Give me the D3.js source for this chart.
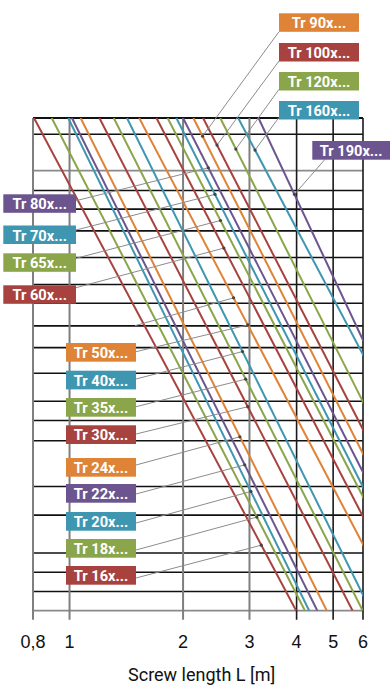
<!DOCTYPE html>
<html><head><meta charset="utf-8">
<script src="https://cdn.jsdelivr.net/npm/d3@7"></script>
<style>body{margin:0;background:#fff}svg{display:block}</style>
</head><body><svg id="c" width="390" height="688"></svg>
<script>
// ---------- data ----------
const xTicks = [0.8, 1, 2, 3, 4, 5, 6];
const xTickLabels = ["0,8", "1", "2", "3", "4", "5", "6"];
const seriesNames = ["Tr 16x...", "Tr 18x...", "Tr 20x...", "Tr 22x...", "Tr 24x...", "Tr 30x...", "Tr 35x...", "Tr 40x...", "Tr 50x...",
  "Tr 60x...", "Tr 65x...", "Tr 70x...", "Tr 80x...", "Tr 90x...", "Tr 100x...", "Tr 120x...", "Tr 160x...", "Tr 190x..."];
const seriesColors = ["#a8423f", "#8aa54a", "#3f96b0", "#6c558f", "#df8336", "#a8423f", "#8aa54a", "#3f96b0", "#df8336",
  "#a8423f", "#8aa54a", "#3f96b0", "#6c558f", "#df8336", "#a8423f", "#8aa54a", "#3f96b0", "#6c558f"];
// screw length L [m] where each line meets the top (level 100) and the bottom (level 0) of the chart
const lengthAtTop = [0.805, 0.897, 0.992, 1.015, 1.07, 1.20, 1.31, 1.42, 1.53, 1.70, 1.82, 1.92, 2.00, 2.13, 2.26, 2.51, 2.80, 3.17];
const lengthAtBottom = [3.99, 4.21, 4.32, 4.54, 4.81, 5.63, 5.99, 6.29, 7.42, 8.08, 8.59, 8.79, 9.22, 9.74, 10.59, 11.39, 13.68, 13.06];
// relative vertical levels of the callout dots on each line
const calloutLevel = [13.3, 19.0, 24.2, 29.6, 35.3, 41.4, 47.0, 52.6, 58.0, 73.6, 79.2, 84.5, 89.9, 96.3, 94.5, 93.7, 93.5, 84.5];
// an extra (unlabelled) leader pointing at the Tr 50 line
const extraCalloutSeries = [8];
const extraCalloutLevel = [63.5];
// horizontal grid levels (relative, 0 = bottom, 100 = top)
const gridLevelsBlack = [100, 96.7, 85.3, 81.5, 77.1, 71.7, 66.2, 62.4, 57.8, 53.4, 48.2, 42.5, 38.6, 34.5, 25.2, 19.4, 11.7, 7.8, 3.9];
const gridLevelsGray = [89.3, 0];

// ---------- layout ----------
const plot = {left: 33, right: 363, top: 118, bottom: 610.7};
const svg = d3.select("#c");
const x = d3.scaleLog().domain([0.8, 6]).range([plot.left, plot.right]);
const y = d3.scaleLinear().domain([0, 100]).range([plot.bottom, plot.top]);

// label boxes: [x, y, w, h, leaderStartX, leaderStartY]
const boxLayout = [
  [66, 566, 70, 18.7, 136, 578], [66, 539, 70, 18.7, 136, 550], [66, 512, 70, 18.7, 136, 523],
  [66, 484, 70, 18.7, 136, 494], [66, 458, 70, 18.7, 136, 465], [66, 425.3, 70, 18.7, 136, 434],
  [66, 398, 70, 18.7, 136, 406.7], [66, 370.7, 70, 18.7, 136, 379], [66, 343, 70, 18.7, 136, 351.7],
  [3.3, 285.3, 72.7, 18.5, 76, 287.7], [3.3, 253.3, 72.7, 18.5, 76, 258.3], [3.3, 225.5, 72.7, 18.5, 76, 230],
  [3.3, 194.3, 72.7, 18.5, 76, 200.7],
  [279, 13.3, 80, 18.5, 279, 31.7], [279, 43, 80, 18.5, 279, 61], [279, 72, 80, 18.5, 279, 89.3],
  [279, 101, 80, 18.5, 279, 117.3], [312.3, 141, 77.7, 18.7, 325, 159.3]
];
const extraLeaderStart = [[135, 325.7]];

svg.append("defs").append("clipPath").attr("id", "clip")
  .append("rect").attr("x", plot.left).attr("y", plot.top)
  .attr("width", plot.right - plot.left).attr("height", plot.bottom - plot.top);

// ---------- grid ----------
const grid = svg.append("g");
grid.selectAll("line.hg").data(gridLevelsGray).join("line").attr("class", "hg")
  .attr("x1", plot.left).attr("x2", plot.right)
  .attr("y1", d => y(d)).attr("y2", d => y(d))
  .attr("stroke", "#8a8a8a").attr("stroke-width", 1.8);
grid.selectAll("line.hb").data(gridLevelsBlack).join("line").attr("class", "hb")
  .attr("x1", plot.left).attr("x2", plot.right)
  .attr("y1", d => y(d)).attr("y2", d => y(d))
  .attr("stroke", "#111").attr("stroke-width", d => d === 100 ? 2.2 : 1.6);
grid.selectAll("line.v").data(xTicks).join("line").attr("class", "v")
  .attr("x1", d => x(d)).attr("x2", d => x(d))
  .attr("y1", plot.top).attr("y2", plot.bottom + 9)
  .attr("stroke", d => d >= 4 ? "#1a1a1a" : "#7f7f7f").attr("stroke-width", d => d >= 4 ? 1.6 : 2);

// ---------- series lines ----------
function lineAt(i, v) {
  const a = Math.log(lengthAtTop[i]), b = Math.log(lengthAtBottom[i]);
  return Math.exp(a + (100 - v) / 100 * (b - a));
}
svg.append("g").attr("clip-path", "url(#clip)")
  .selectAll("line").data(d3.range(seriesNames.length)).join("line")
  .attr("x1", i => x(lengthAtTop[i])).attr("y1", y(100))
  .attr("x2", i => x(lengthAtBottom[i])).attr("y2", y(0))
  .attr("stroke", i => seriesColors[i]).attr("stroke-width", 2);

// ---------- callouts ----------
const leaders = d3.range(seriesNames.length).map(i => ({
  x1: boxLayout[i][4], y1: boxLayout[i][5], s: i, v: calloutLevel[i]
})).concat(extraCalloutSeries.map((s, k) => ({
  x1: extraLeaderStart[k][0], y1: extraLeaderStart[k][1], s: s, v: extraCalloutLevel[k]
})));
const callouts = svg.append("g");
callouts.selectAll("line").data(leaders).join("line")
  .attr("x1", d => d.x1).attr("y1", d => d.y1)
  .attr("x2", d => x(lineAt(d.s, d.v))).attr("y2", d => y(d.v))
  .attr("stroke", "#8c8c8c").attr("stroke-width", 1);
callouts.selectAll("circle").data(leaders).join("circle")
  .attr("cx", d => x(lineAt(d.s, d.v))).attr("cy", d => y(d.v))
  .attr("r", 1.6).attr("fill", "#444");

const boxes = svg.append("g").selectAll("g").data(d3.range(seriesNames.length)).join("g");
boxes.append("rect")
  .attr("x", i => boxLayout[i][0]).attr("y", i => boxLayout[i][1])
  .attr("width", i => boxLayout[i][2]).attr("height", i => boxLayout[i][3])
  .attr("fill", i => seriesColors[i]);
boxes.append("text")
  .attr("x", i => boxLayout[i][0] + boxLayout[i][2] / 2)
  .attr("y", i => boxLayout[i][1] + 15)
  .attr("text-anchor", "middle").attr("fill", "#fff")
  .attr("font-family", "Roboto, 'Open Sans', sans-serif").attr("font-weight", 700).attr("font-size", 15.5)
  .attr("textLength", i => seriesNames[i].length > 9 ? 62.7 : 54.5)
  .attr("lengthAdjust", "spacingAndGlyphs")
  .text(i => seriesNames[i]);

// ---------- axis ----------
svg.append("g").selectAll("text").data(xTicks).join("text")
  .attr("x", d => x(d)).attr("y", 648.3)
  .attr("text-anchor", "middle").attr("font-family", "'Liberation Sans', Arial, sans-serif")
  .attr("font-size", 18).attr("fill", "#111")
  .text((d, i) => xTickLabels[i]);
svg.append("text").attr("x", 201.7).attr("y", 681)
  .attr("text-anchor", "middle").attr("font-family", "Roboto, sans-serif").attr("font-size", 18).attr("fill", "#111")
  .text("Screw length L [m]");
</script></body></html>
